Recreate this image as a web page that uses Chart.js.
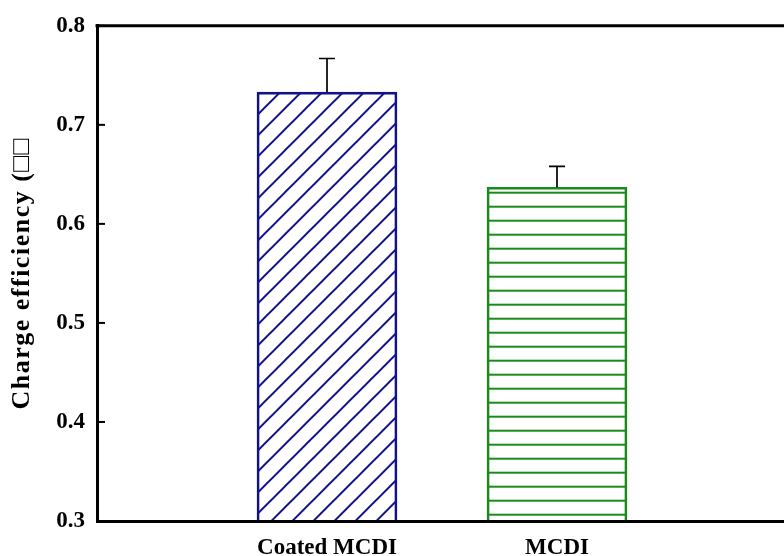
<!DOCTYPE html>
<html><head><meta charset="utf-8">
<script src="https://cdn.jsdelivr.net/npm/chart.js@4/dist/chart.umd.min.js"></script>
<style>html,body{margin:0;padding:0;background:#fff;overflow:hidden;width:784px;height:556px}#wrap{width:800px;height:556px;position:relative}canvas{display:block;width:800px;height:556px}</style>
</head><body>
<div id="wrap"><canvas id="c" width="800" height="556"></canvas></div>
<script>
// ---- data ----
const categories = ['Coated MCDI', 'MCDI'];
const chargeEfficiency = [0.733, 0.637];
const errorPlus = [0.034, 0.021];
const yTickValues = [0.3, 0.4, 0.5, 0.6, 0.7, 0.8];
const yAxisTitle = 'Charge efficiency (\u25A1\u25A1';

const FONT = "'Liberation Serif', 'Times New Roman', serif";
const NAVY = '#12128a';
const GREEN = '#1a8a1a';

function diagPattern(color) {
  const s = 21, c = document.createElement('canvas');
  c.width = s; c.height = s;
  const g = c.getContext('2d');
  g.strokeStyle = color; g.lineWidth = 2;
  for (const k of [15.3 - s, 15.3, 15.3 + s]) {
    g.beginPath(); g.moveTo(-5, k + 5); g.lineTo(k + 5, -5); g.stroke();
  }
  return g.createPattern(c, 'repeat');
}
function hPattern(color) {
  const c = document.createElement('canvas');
  c.width = 14; c.height = 14;
  const g = c.getContext('2d');
  g.strokeStyle = color; g.lineWidth = 2;
  g.beginPath(); g.moveTo(0, 10.7); g.lineTo(14, 10.7); g.stroke();
  return g.createPattern(c, 'repeat');
}

const labels = ['', ...categories, ''];
const values = [null, ...chargeEfficiency, null];
const errs = [null, ...errorPlus, null];

const errorBars = {
  id: 'errorBars',
  afterDatasetsDraw(chart) {
    const ctx = chart.ctx, ys = chart.scales.y;
    const meta = chart.getDatasetMeta(0);
    ctx.save();
    ctx.strokeStyle = '#000'; ctx.lineWidth = 1.7;
    meta.data.forEach((bar, i) => {
      if (values[i] == null) return;
      const top = ys.getPixelForValue(values[i] + errs[i]);
      ctx.beginPath();
      ctx.moveTo(bar.x, bar.y); ctx.lineTo(bar.x, top);
      ctx.moveTo(bar.x - 8, top); ctx.lineTo(bar.x + 8, top);
      ctx.stroke();
    });
    ctx.restore();
  }
};
const frame = {
  id: 'frame',
  beforeDraw(chart) {
    const s = chart.scales.y;
    if (!s._spacedTitle) {
      const orig = s.drawTitle.bind(s);
      s.drawTitle = function () {
        const ctx = chart.ctx;
        ctx.save(); ctx.letterSpacing = '1.5px'; orig(); ctx.restore();
      };
      s._spacedTitle = true;
    }
  },
  afterDraw(chart) {
    const ctx = chart.ctx, a = chart.chartArea, ys = chart.scales.y;
    ctx.save();
    ctx.strokeStyle = '#000';
    ctx.lineWidth = 3;
    ctx.beginPath(); ctx.moveTo(a.left - 1.5, a.top); ctx.lineTo(a.right, a.top); ctx.stroke();
    ctx.lineWidth = 2;
    yTickValues.forEach(v => {
      const y = ys.getPixelForValue(v);
      ctx.beginPath(); ctx.moveTo(a.left, y); ctx.lineTo(a.left + 8, y); ctx.stroke();
    });
    ctx.restore();
  }
};

new Chart(document.getElementById('c'), {
  type: 'bar',
  data: {
    labels: labels,
    datasets: [{
      data: values,
      base: yTickValues[0],
      backgroundColor: [null, diagPattern(NAVY), hPattern(GREEN), null],
      borderColor: ['#000', NAVY, GREEN, '#000'],
      borderWidth: 2,
      barThickness: 140
    }]
  },
  options: {
    responsive: false,
    maintainAspectRatio: false,
    animation: false,
    events: [],
    layout: { padding: { top: 23, right: 8.5, bottom: 0, left: 0 } },
    plugins: { legend: { display: false }, tooltip: { enabled: false } },
    scales: {
      x: {
        type: 'category',
        offset: false,
        grid: { display: false, drawTicks: false },
        border: { display: true, color: '#000', width: 3, z: 1 },
        ticks: {
          autoSkip: false, maxRotation: 0, padding: 13, color: '#000',
          font: { family: FONT, size: 23, weight: 'bold' }
        },
        afterFit(s) { s.height = 35; }
      },
      y: {
        min: yTickValues[0], max: yTickValues[yTickValues.length - 1],
        grid: { display: false, drawTicks: false },
        border: { display: true, color: '#000', width: 3, z: 1 },
        ticks: {
          stepSize: 0.1, padding: 12, color: '#000',
          font: { family: FONT, size: 23, weight: 'bold' },
          callback: v => Number(v).toFixed(1)
        },
        title: {
          display: true, text: yAxisTitle, color: '#000',
          font: { family: FONT, size: 26, weight: 'bold' },
          padding: { top: 7, bottom: 0 }
        },
        afterFit(s) { s.width = 97; }
      }
    }
  },
  plugins: [errorBars, frame]
});
</script>
</body></html>
